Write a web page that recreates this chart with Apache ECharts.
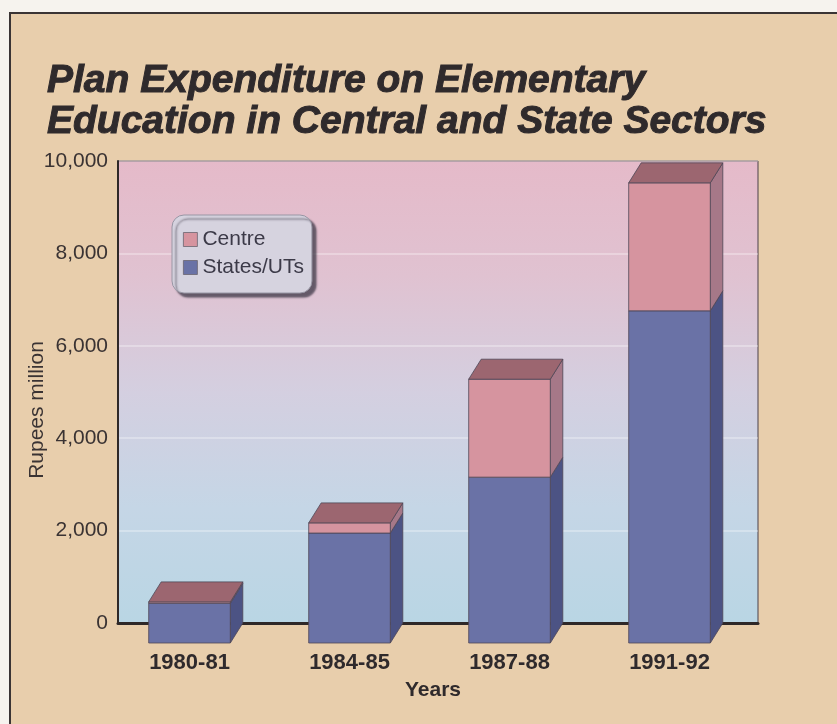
<!DOCTYPE html>
<html>
<head>
<meta charset="utf-8">
<script src="https://cdn.jsdelivr.net/npm/echarts@6/dist/echarts.min.js"></script>
<style>
  html, body { margin: 0; padding: 0; background: #f6f3ee; }
  #chart { width: 837px; height: 724px; }
</style>
</head>
<body>
<div id="chart"></div>
<script>
// Plan expenditure on elementary education (Rupees million)
const years = ['1980-81', '1984-85', '1987-88', '1991-92'];
const statesUTs = [860, 2380, 3590, 7190];
const centre = [30, 220, 2120, 2770];
const yTicks = [0, 2000, 4000, 6000, 8000, 10000];

// 3D block styling
const DEPTH_X = 12.5;    // how far the back face sits to the right
const DEPTH_Y = 20;      // how far the front face sits below the back face
const FRONT_SHIFT = -8.5;
const BAR_RATIO = 0.51;
const EDGE = '#4e4656';

const faces = {
  'States/UTs': { front: '#6a72a6', side: '#4c5384', top: '#5d6596' },
  'Centre':     { front: '#d6949f', side: '#a67888', top: '#9c6670' }
};

function blockRenderer(name, drawTop) {
  const c = faces[name];
  return function (params, api) {
    const cat = api.value(0);
    const lo = api.value(1);
    const hi = api.value(2);
    if (hi <= lo) return null;
    const pLo = api.coord([cat, lo]);
    const pHi = api.coord([cat, hi]);
    const w = api.size([1, 0])[0] * BAR_RATIO;
    const x0 = pLo[0] + FRONT_SHIFT - w / 2;
    const x1 = x0 + w;
    const yTop = pHi[1] + DEPTH_Y;
    const yBot = pLo[1] + DEPTH_Y;
    const children = [
      {
        type: 'polygon',
        shape: { points: [[x1, yTop], [x1 + DEPTH_X, pHi[1]], [x1 + DEPTH_X, pLo[1]], [x1, yBot]] },
        style: { fill: c.side, stroke: EDGE, lineWidth: 0.8 }
      },
      {
        type: 'rect',
        shape: { x: x0, y: yTop, width: w, height: yBot - yTop },
        style: { fill: c.front, stroke: EDGE, lineWidth: 0.8 }
      }
    ];
    if (drawTop) {
      children.push({
        type: 'polygon',
        shape: { points: [[x0, yTop], [x0 + DEPTH_X, pHi[1]], [x1 + DEPTH_X, pHi[1]], [x1, yTop]] },
        style: { fill: c.top, stroke: EDGE, lineWidth: 0.8 }
      });
    }
    return { type: 'group', children: children };
  };
}

const statesData = years.map((y, i) => [i, 0, statesUTs[i]]);
const centreData = years.map((y, i) => [i, statesUTs[i], statesUTs[i] + centre[i]]);

const chart = echarts.init(document.getElementById('chart'), null, { renderer: 'canvas' });

chart.setOption({
  animation: false,
  backgroundColor: '#e8ceac',
  title: {
    text: 'Plan Expenditure on Elementary\nEducation in Central and State Sectors',
    left: 47,
    top: 61,
    padding: 0,
    textStyle: {
      fontFamily: 'Liberation Sans',
      fontSize: 39,
      fontWeight: 'bold',
      fontStyle: 'italic',
      lineHeight: 41,
      color: '#2f2a2c',
      textBorderColor: '#2f2a2c',
      textBorderWidth: 1
    }
  },
  graphic: [
    { type: 'rect', silent: true, shape: { x: 0, y: 0, width: 837, height: 12 }, style: { fill: '#f6f3ee' } },
    { type: 'rect', silent: true, shape: { x: 0, y: 0, width: 9, height: 724 }, style: { fill: '#f6f3ee' } },
    { type: 'line', silent: true, shape: { x1: 9, y1: 13, x2: 837, y2: 13 }, style: { stroke: '#3a3434', lineWidth: 2 } },
    { type: 'line', silent: true, shape: { x1: 10, y1: 13, x2: 10, y2: 724 }, style: { stroke: '#3a3434', lineWidth: 2 } }
  ],
  legend: {
    orient: 'vertical',
    left: 172,
    top: 215,
    data: ['Centre', 'States/UTs'],
    itemWidth: 14,
    itemHeight: 14,
    itemGap: 7,
    icon: 'rect',
    padding: [14, 8, 15, 11],
    backgroundColor: '#d6d3df',
    borderColor: '#9896a4',
    borderWidth: 1,
    borderRadius: 12,
    shadowColor: 'rgba(60,55,70,0.75)',
    shadowBlur: 2,
    shadowOffsetX: 4,
    shadowOffsetY: 4,
    itemStyle: { borderColor: '#6a6470', borderWidth: 0.8 },
    textStyle: { fontFamily: 'Liberation Sans', fontSize: 21, color: '#3c3a48' }
  },
  grid: {
    left: 118,
    right: 79,
    top: 161,
    bottom: 101,
    show: true,
    borderColor: '#4a4048',
    borderWidth: 1,
    backgroundColor: new echarts.graphic.LinearGradient(0, 0, 0, 1, [
      { offset: 0, color: '#e5bac9' },
      { offset: 0.25, color: '#e0c2d1' },
      { offset: 0.5, color: '#d4cfe0' },
      { offset: 0.75, color: '#c5d6e6' },
      { offset: 1, color: '#b9d6e4' }
    ])
  },
  xAxis: {
    type: 'category',
    data: years,
    name: 'Years',
    nameLocation: 'middle',
    nameGap: 57,
    nameMoveOverlap: false,
    nameTextStyle: { fontFamily: 'Liberation Sans', fontSize: 21, fontWeight: 'bold', color: '#2f2a2c', padding: [0, 10, 0, 0] },
    axisLine: { show: true, lineStyle: { color: '#2e2828', width: 3 } },
    axisTick: { show: false },
    axisLabel: {
      margin: 29,
      padding: [0, 17, 0, 0],
      fontFamily: 'Liberation Sans',
      fontSize: 22,
      fontWeight: 'bold',
      color: '#2f2a2c'
    },
    splitLine: { show: false }
  },
  yAxis: {
    type: 'value',
    min: yTicks[0],
    max: yTicks[yTicks.length - 1],
    interval: yTicks[1] - yTicks[0],
    name: 'Rupees million',
    nameLocation: 'middle',
    nameRotate: 90,
    nameGap: 70,
    nameMoveOverlap: false,
    nameTextStyle: { fontFamily: 'Liberation Sans', fontSize: 21, color: '#3a3333', padding: [0, 36, 0, 0] },
    axisLine: { show: true, lineStyle: { color: '#2e2828', width: 2 } },
    axisTick: { show: false },
    axisLabel: {
      margin: 10,
      padding: [6, 0, 0, 0],
      fontFamily: 'Liberation Sans',
      fontSize: 21,
      color: '#3a3333',
      formatter: v => v.toLocaleString('en-US')
    },
    splitLine: { show: true, lineStyle: { color: 'rgba(255,255,255,0.4)', width: 1.5 } }
  },
  series: [
    {
      name: 'States/UTs',
      type: 'custom',
      itemStyle: { color: faces['States/UTs'].front },
      renderItem: blockRenderer('States/UTs', false),
      encode: { x: 0, y: [1, 2] },
      data: statesData
    },
    {
      name: 'Centre',
      type: 'custom',
      itemStyle: { color: faces['Centre'].front },
      renderItem: blockRenderer('Centre', true),
      encode: { x: 0, y: [1, 2] },
      data: centreData
    }
  ]
});
</script>
</body>
</html>
